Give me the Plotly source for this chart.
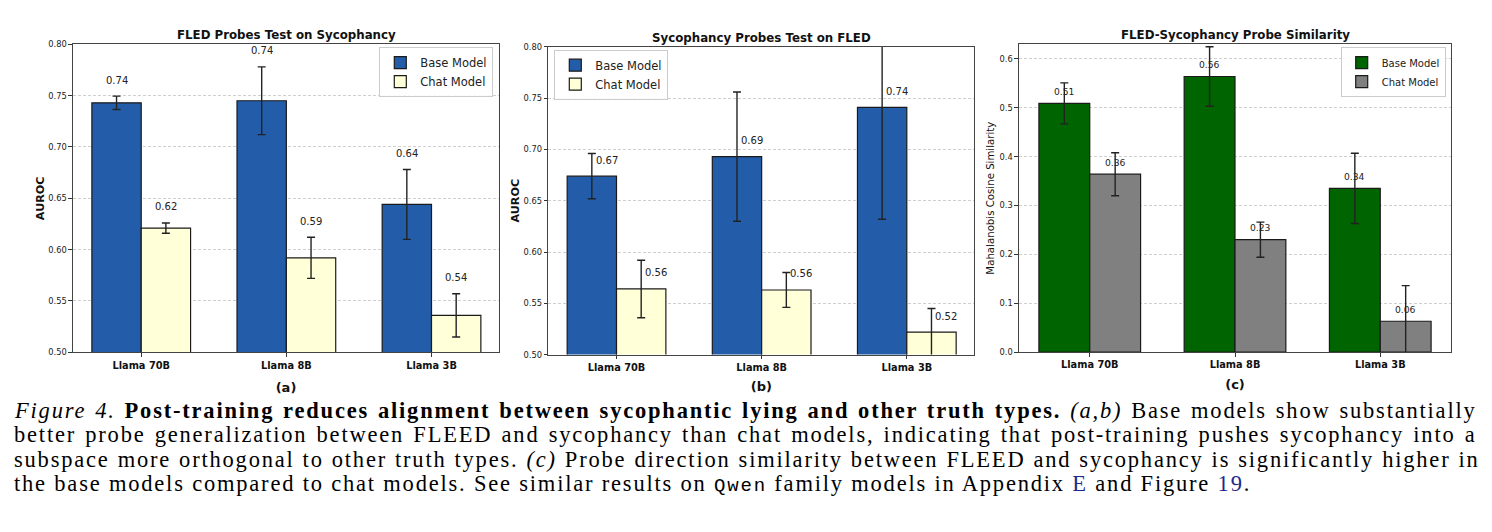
import plotly.graph_objects as go

W, H = 1492, 532

categories = ["Llama 70B", "Llama 8B", "Llama 3B"]

# (a) FLED probes tested on sycophancy
a_base = [0.743, 0.745, 0.644]
a_base_err = [0.0065, 0.033, 0.034]
a_chat = [0.621, 0.592, 0.536]
a_chat_err = [0.005, 0.020, 0.021]

# (b) Sycophancy probes tested on FLED
b_base = [0.674, 0.693, 0.741]
b_base_err = [0.022, 0.063, 0.109]
b_chat = [0.564, 0.563, 0.522]
b_chat_err = [0.028, 0.017, 0.023]

# (c) FLED-Sycophancy probe similarity
c_base = [0.509, 0.564, 0.335]
c_base_err = [0.042, 0.061, 0.072]
c_chat = [0.364, 0.230, 0.063]
c_chat_err = [0.044, 0.036, 0.073]

titles = ["FLED Probes Test on Sycophancy", "Sycophancy Probes Test on FLED",
          "FLED-Sycophancy Probe Similarity"]
sub_labels = ["(a)", "(b)", "(c)"]
series_names = ["Base Model", "Chat Model"]

BLUE = "#235da9"
CREAM = "#ffffd8"
GREEN = "#006400"
GRAY = "#808080"
FONT = "DejaVu Sans"

def px_x(x):
    return x / W

def px_y(y):
    return 1 - y / H

# plot areas in pixels (left, right, top, bottom)
areas = [(73, 499, 40, 354), (548.3, 974.3, 42.7, 356.3), (1019, 1451, 40, 353.7)]

fig = go.Figure()

panels = [
    (a_base, a_base_err, a_chat, a_chat_err, BLUE, CREAM, 0.34, "legend"),
    (b_base, b_base_err, b_chat, b_chat_err, BLUE, CREAM, 0.34, "legend2"),
    (c_base, c_base_err, c_chat, c_chat_err, GREEN, GRAY, 0.35, "legend3"),
]

for i, (vb, eb, vc, ec, colb, colc, w, leg) in enumerate(panels):
    xa = "x" if i == 0 else f"x{i+1}"
    ya = "y" if i == 0 else f"y{i+1}"
    for vals, errs, col, name, off in [(vb, eb, colb, series_names[0], -w),
                                        (vc, ec, colc, series_names[1], 0)]:
        fig.add_trace(go.Bar(
            x=categories, y=vals, name=name, width=w, offset=off,
            marker=dict(color=col, line=dict(color="#1a1a1a", width=1.2)),
            error_y=dict(type="data", array=errs, color="#222222", thickness=1.4, width=4),
            xaxis=xa, yaxis=ya, legend=leg, showlegend=True,
        ))

annotations = []
# value labels
for k in range(3):
    # (a): centred above the error bar
    for v, e, dx in [(a_base[k], a_base_err[k], -0.17), (a_chat[k], a_chat_err[k], 0.17)]:
        annotations.append(dict(x=k + dx, y=v + e, xref="x", yref="y", text=f"{v:.2f}",
                                showarrow=False, yshift=16, yanchor="middle", xanchor="center",
                                font=dict(family=FONT, size=10, color="#222")))
    # (b): left-aligned at bar centre above the bar
    for v, dx in [(b_base[k], -0.17), (b_chat[k], 0.17)]:
        annotations.append(dict(x=k + dx, y=v, xref="x2", yref="y2", text=f"{v:.2f}",
                                showarrow=False, yshift=16, xshift=2, xanchor="left",
                                yanchor="middle", font=dict(family=FONT, size=10, color="#222")))
    # (c): centred above the bar
    for v, dx in [(c_base[k], -0.175), (c_chat[k], 0.175)]:
        annotations.append(dict(x=k + dx, y=v, xref="x3", yref="y3", text=f"{v:.2f}",
                                showarrow=False, yshift=12, yanchor="middle", xanchor="center",
                                font=dict(family=FONT, size=9.2, color="#222")))

# panel titles
title_sizes = [11.8, 11.8, 11.8]
title_y = [31, 34, 31]
for (l, r, t, b), title, ts, ty in zip(areas, titles, title_sizes, title_y):
    annotations.append(dict(x=px_x((l + r) / 2), y=px_y(ty), xref="paper", yref="paper",
                            text=f"<b>{title}</b>", showarrow=False, yanchor="middle",
                            xanchor="center", font=dict(family=FONT, size=ts, color="#111")))

# caption
LINK = "#1c2a8c"
caption_lines = [
    "<i>Figure 4.</i> <b>Post-training reduces alignment between sycophantic lying and other truth types.</b> <i>(a,b)</i> Base models show substantially",
    "better probe generalization between FLEED and sycophancy than chat models, indicating that post-training pushes sycophancy into a",
    "subspace more orthogonal to other truth types. <i>(c)</i> Probe direction similarity between FLEED and sycophancy is significantly higher in",
    "the base models compared to chat models. See similar results on <span style=\"font-family:'Liberation Mono';font-size:19px\">Qwen</span> family models in Appendix <span style=\"color:" + LINK + "\">E</span> and Figure <span style=\"color:" + LINK + "\">19</span>.",
]
caption_wordspacing = ["1.5px", "1.8px", "0.6px", "0px"]
caption_y = [413, 438, 463, 488]
for line, yc, ws in zip(caption_lines, caption_y, caption_wordspacing):
    annotations.append(dict(x=px_x(12), y=px_y(yc), xref="paper", yref="paper",
                            text=f"<span style=\"letter-spacing:1.8px;word-spacing:{ws}\">{line}</span>",
                            showarrow=False, xanchor="left", yanchor="middle",
                            font=dict(family="Liberation Serif", size=22.5, color="#000")))

layout = dict(
    width=W, height=H, margin=dict(l=0, r=0, t=0, b=0),
    paper_bgcolor="white", plot_bgcolor="white",
    font=dict(family=FONT, color="#222"),
    annotations=annotations, showlegend=True,
)

yranges = [[0.5, 0.8], [0.5, 0.8], [0, 0.63]]
ydtick = [0.05, 0.05, 0.1]
yfmt = [".2f", ".2f", ".1f"]
ytitles = ["<b>AUROC</b>", "<b>AUROC</b>", "Mahalanobis Cosine Similarity"]
ytitle_size = [11.2, 11.2, 10.2]
ystand = [1, 1, 2]
xstand = [13, 9, 10]
xranges = [[-0.47, 2.465], [-0.47, 2.465], [-0.487, 2.487]]

for i, (l, r, t, b) in enumerate(areas):
    sfx = "" if i == 0 else str(i + 1)
    layout[f"xaxis{sfx}"] = dict(
        domain=[px_x(l), px_x(r)], anchor=f"y{sfx}", range=xranges[i],
        showline=True, mirror=True, linecolor="#444", linewidth=1.2,
        ticks="outside", ticklen=3.5, tickcolor="#333", showgrid=False,
        tickfont=dict(family=FONT, size=9.8, weight="bold", color="#111"),
        title=dict(text=f"<b>{sub_labels[i]}</b>", font=dict(family=FONT, size=13, color="#111"),
                   standoff=xstand[i]),
        type="category",
    )
    layout[f"yaxis{sfx}"] = dict(
        domain=[px_y(b), px_y(t)], anchor=f"x{sfx}", range=yranges[i],
        dtick=ydtick[i], tick0=0, tickformat=yfmt[i],
        showline=True, mirror=True, linecolor="#444", linewidth=1.2,
        ticks="outside", ticklen=3.5, tickcolor="#333",
        showgrid=True, gridcolor="#cfcfcf", griddash="3px,2px", gridwidth=0.8,
        zeroline=False,
        tickfont=dict(family=FONT, size=8.3, color="#222"),
        title=dict(text=ytitles[i], font=dict(family=FONT, size=ytitle_size[i], color="#111"),
                   standoff=ystand[i]),
    )

leg_common = dict(bgcolor="rgba(255,255,255,0.85)", bordercolor="#cccccc", borderwidth=1,
                  itemwidth=30)
layout["legend"] = dict(x=px_x(493.3), y=px_y(43), xanchor="right", yanchor="top",
                        font=dict(family=FONT, size=11.5, color="#222"), **leg_common)
layout["legend2"] = dict(x=px_x(554.3), y=px_y(45.5), xanchor="left", yanchor="top",
                         font=dict(family=FONT, size=11.5, color="#222"), **leg_common)
layout["legend3"] = dict(x=px_x(1445.7), y=px_y(43), xanchor="right", yanchor="top",
                         font=dict(family=FONT, size=10, color="#222"), **leg_common)

fig.update_layout(**layout)
fig.write_html("out.html")
